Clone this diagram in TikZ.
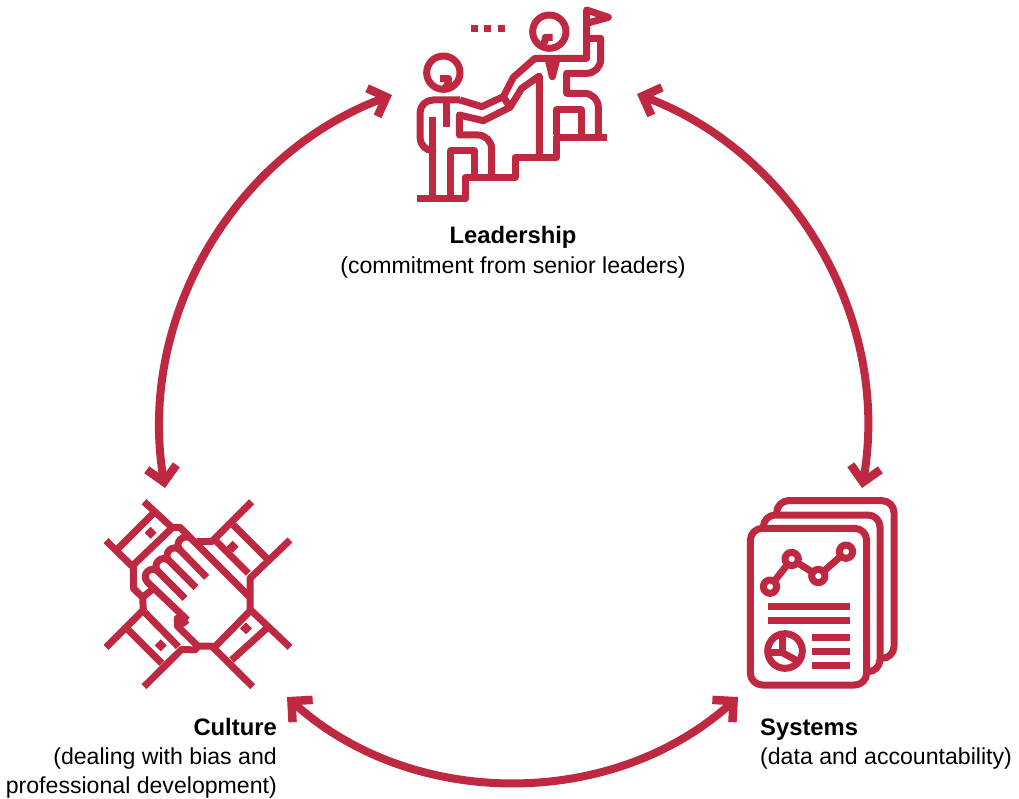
\documentclass[tikz,border=0pt]{standalone}
\usepackage{fontspec}
\setmainfont{Liberation Sans}
\usetikzlibrary{arrows.meta}
\definecolor{brand}{RGB}{190,40,65}
\tikzset{
 barb/.tip={Straight Barb[length=15pt,width=30pt,line width=8.5pt]},
 cycle/.style={draw=brand,line width=8pt,barb-barb},
 icon/.style={draw=brand,line width=7pt,line join=round,fill=none},
 lbl/.style={inner sep=0pt,font=\fontsize{23.1}{23.1}\selectfont,text=black},
 lblb/.style={inner sep=0pt,font=\fontsize{23.8}{23.8}\selectfont\bfseries,text=black},
 rule/.style={draw=brand,line width=7pt},
}
\begin{document}
\begin{tikzpicture}[x=1pt,y=-1pt]
\useasboundingbox (0,0) rectangle (1019,799);
\coordinate (lt) at (392,95);
\coordinate (rt) at (637,94);
\coordinate (ll) at (165,488);
\coordinate (rr) at (862,488);
\coordinate (bl) at (287,697);
\coordinate (br) at (738,697);
\draw[cycle] (lt) to[bend right=39.5,looseness=0.96] (ll);
\draw[cycle] (rt) to[bend left=39.5,looseness=0.96] (rr);
\draw[cycle] (bl) to[bend right=42,looseness=0.96] (br);
% Leadership icon
\begin{scope}[shift={(400,0)},x=.33333pt,y=-.33333pt]
\draw[icon] (130,218) circle[radius=50];
\draw[icon] (448,95) circle[radius=50];
\draw[icon] (120,236) -- (146,236) .. controls (146,250) and (142,258) .. (130,268);
\draw[icon] (458,112) -- (436,112) .. controls (436,124) and (432,132) .. (422,140);
\draw[icon,rounded corners=13pt] (180,300) -- (60,300) -- (60,452) [sharp corners] -- (98,452);
\draw[icon] (98,352) -- (98,590);
\draw[icon,line cap=butt] (50,597) -- (195,597) -- (195,532) -- (345,532) -- (345,472) -- (470,472) -- (470,412) -- (620,412);
\draw[icon] (152,590) -- (152,452) -- (222,452) -- (222,525);
\draw[icon,rounded corners=14pt] (275,525) -- (275,405) [sharp corners] -- (178,405) -- (178,345) -- (250,362) -- (330,322) -- (365,265) -- (418,228) -- (418,465);
\draw[icon] (140,300) -- (140,380);
\draw[icon] (180,300) -- (245,320) -- (310,290) -- (340,232) -- (405,175) -- (560,175) -- (560,115) -- (602,115) [rounded corners=14pt] -- (602,220) [sharp corners] -- (500,220) -- (500,280) [rounded corners=14pt] -- (595,280) [sharp corners] -- (595,405);
\draw[icon] (310,290) -- (330,322);
\draw[icon] (560,115) -- (560,30) -- (625,52) -- (560,70);
\draw[icon] (470,405) -- (470,330) -- (543,330) -- (543,405);
\draw[icon] (445,180) -- (457,230) -- (470,180);
\fill[brand] (213,75) rectangle +(20,20);
\fill[brand] (253,75) rectangle +(20,20);
\fill[brand] (295,75) rectangle +(20,20);
\end{scope}
% Culture icon
\begin{scope}[shift={(90,490)},x=.33333pt,y=-.33333pt]
\draw[icon] (162,35) -- (245,112) -- (270,112) -- (480,322);
\draw[icon] (48,152) -- (130,232) -- (130,295) -- (158,322) -- (160,360) -- (48,472);
\draw[icon] (158,322) -- (192,294);
\draw[icon] (190,70) -- (85,175);
\draw[icon] (245,115) -- (130,225);
\draw[icon] (485,35) -- (365,155) -- (320,155);
\draw[icon] (600,150) -- (480,265) -- (480,358) -- (600,472);
\draw[icon] (430,105) -- (530,205);
\draw[icon] (380,155) -- (475,250);
\draw[icon] (162,590) -- (275,478) -- (315,480) -- (325,468) -- (365,468) -- (488,590);
\draw[icon] (115,420) -- (215,520);
\draw[icon] (165,368) -- (265,470);
\draw[icon] (530,415) -- (425,510);
\draw[icon] (478,365) -- (375,470);
\draw[icon] (292,390) -- (173,277) .. controls (151,255) and (183,223) .. (205,245) .. controls (183,223) and (216,191) .. (238,213) .. controls (216,191) and (249,159) .. (271,181) .. controls (249,159) and (282,128) .. (304,146);
\draw[icon] (205,245) -- (285,325);
\draw[icon] (238,213) -- (318,293);
\draw[icon] (271,181) -- (350,262);
\draw[icon] (292,390) -- (278,400) -- (262,385) -- (262,408) -- (325,470);
\foreach \x/\y in {182/128,428/170,212/466,468/415}
  \fill[brand] (\x,\y) ++(-18,0) -- ++(18,-18) -- ++(18,18) -- ++(-18,18) -- cycle;
\end{scope}
% Systems icon
\begin{scope}[shift={(735,490)},x=.33333pt,y=-.33333pt]
\draw[icon,rounded corners=12pt] (46,300) -- (46,115) -- (395,115) -- (395,585) -- (46,585) -- cycle;
\draw[icon,rounded corners=12pt] (85,112) -- (85,75) -- (435,75) -- (435,545) -- (398,545);
\draw[icon,rounded corners=12pt] (125,72) -- (125,32) -- (477,32) -- (477,505) -- (438,505);
\draw[icon] (105,290) -- (170,207) -- (250,258) -- (333,185);
\foreach \x/\y in {105/290,170/207,250/258,333/185}
  \draw[icon,fill=white] (\x,\y) circle[radius=20];
\draw[rule] (100,350) -- (345,350);
\draw[rule] (100,392) -- (345,392);
\draw[rule] (232,442) -- (345,442);
\draw[rule] (232,484) -- (345,484);
\draw[rule] (232,526) -- (345,526);
\draw[icon] (150,483) circle[radius=52];
\draw[icon] (142,430) -- (142,488) -- (100,488);
\draw[icon] (142,488) -- (192,515);
\end{scope}
% labels
\node[lblb,anchor=base] (lead) at (513,244) {Leadership};
\node[lbl,anchor=base] (lead2) at (513,274) {(commitment from senior leaders)};
\node[lblb,anchor=base east] (cult) at (277,735) {Culture};
\node[lbl,anchor=base east] (cult2) at (277,764) {(dealing with bias and};
\node[lbl,anchor=base east] (cult3) at (277,793) {professional development)};
\node[lblb,anchor=base west] (sys) at (760,735) {Systems};
\node[lbl,anchor=base west] (sys2) at (760,764) {(data and accountability)};
\end{tikzpicture}
\end{document}
